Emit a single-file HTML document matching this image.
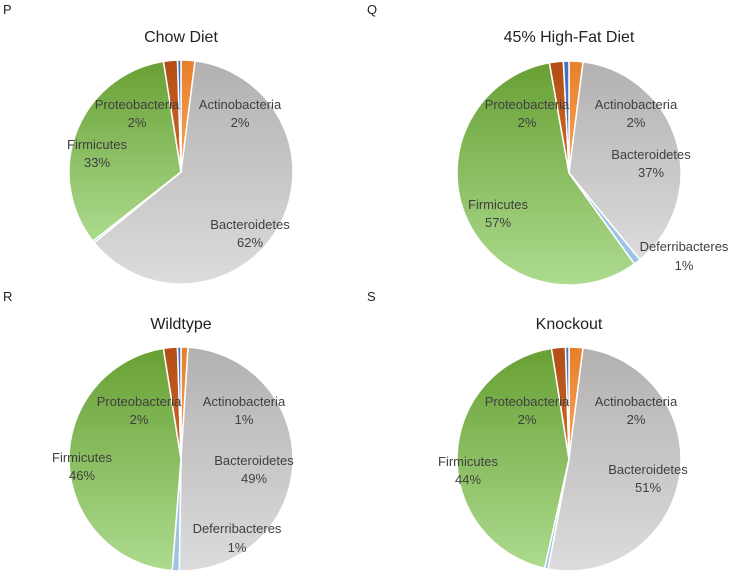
<!DOCTYPE html>
<html><head><meta charset="utf-8"><style>
body{margin:0;background:#fff;width:729px;height:573px;overflow:hidden}
svg{font-family:"Liberation Sans",sans-serif}
.lb{font-size:13px;fill:#404040;text-anchor:middle}
.tt{font-size:16px;fill:#222;text-anchor:middle}
.pl{font-size:13px;fill:#222}
</style></head><body>
<svg id="c" width="729" height="573">
<defs>
<linearGradient id="gG" x1="0" y1="0" x2="0" y2="1"><stop offset="0" stop-color="#68a034"/><stop offset="1" stop-color="#addb8f"/></linearGradient>
<linearGradient id="gY" x1="0" y1="0" x2="0" y2="1"><stop offset="0" stop-color="#b3b0b0"/><stop offset="1" stop-color="#dcdcdc"/></linearGradient>
<linearGradient id="gO" x1="0" y1="0" x2="0" y2="1"><stop offset="0" stop-color="#e87f2a"/><stop offset="1" stop-color="#f6a55a"/></linearGradient>
<linearGradient id="gD" x1="0" y1="0" x2="0" y2="1"><stop offset="0" stop-color="#b24d15"/><stop offset="1" stop-color="#d0682a"/></linearGradient>
</defs>
<text class="pl" x="3" y="14">P</text>
<text class="pl" x="367" y="14">Q</text>
<text class="pl" x="3" y="301">R</text>
<text class="pl" x="367" y="301">S</text>
<text class="tt" x="181" y="42">Chow Diet</text>
<text class="tt" x="569" y="42">45% High-Fat Diet</text>
<text class="tt" x="181" y="329">Wildtype</text>
<text class="tt" x="569" y="329">Knockout</text>
<g id="slices"></g>
<g>
<text class="lb" x="137" y="109">Proteobacteria</text><text class="lb" x="137" y="127">2%</text>
<text class="lb" x="240" y="109">Actinobacteria</text><text class="lb" x="240" y="127">2%</text>
<text class="lb" x="97" y="149">Firmicutes</text><text class="lb" x="97" y="167">33%</text>
<text class="lb" x="250" y="229">Bacteroidetes</text><text class="lb" x="250" y="247">62%</text>

<text class="lb" x="527" y="109">Proteobacteria</text><text class="lb" x="527" y="127">2%</text>
<text class="lb" x="636" y="109">Actinobacteria</text><text class="lb" x="636" y="127">2%</text>
<text class="lb" x="651" y="159">Bacteroidetes</text><text class="lb" x="651" y="177">37%</text>
<text class="lb" x="498" y="209">Firmicutes</text><text class="lb" x="498" y="227">57%</text>
<text class="lb" x="684" y="251">Deferribacteres</text><text class="lb" x="684" y="270">1%</text>

<text class="lb" x="139" y="406">Proteobacteria</text><text class="lb" x="139" y="424">2%</text>
<text class="lb" x="244" y="406">Actinobacteria</text><text class="lb" x="244" y="424">1%</text>
<text class="lb" x="254" y="465">Bacteroidetes</text><text class="lb" x="254" y="483">49%</text>
<text class="lb" x="82" y="462">Firmicutes</text><text class="lb" x="82" y="480">46%</text>
<text class="lb" x="237" y="533">Deferribacteres</text><text class="lb" x="237" y="552">1%</text>

<text class="lb" x="527" y="406">Proteobacteria</text><text class="lb" x="527" y="424">2%</text>
<text class="lb" x="636" y="406">Actinobacteria</text><text class="lb" x="636" y="424">2%</text>
<text class="lb" x="648" y="474">Bacteroidetes</text><text class="lb" x="648" y="492">51%</text>
<text class="lb" x="468" y="466">Firmicutes</text><text class="lb" x="468" y="484">44%</text>
</g>
</svg>
<script>
const categories=["Actinobacteria","Bacteroidetes","Deferribacteres","Firmicutes","Proteobacteria","Other"];
const chow=[2,62,0.3,33,2,0.5];
const highFat=[2,37,1,57,2,0.8];
const wildtype=[1,49,1,46,2,0.5];
const knockout=[2,51,0.5,44,2,0.5];
const colors=["url(#gO)","url(#gY)","#9dc3e6","url(#gG)","url(#gD)","#4472c4"];
const panels=[[chow,181,172,"chow"],[highFat,569,173,"high-fat"],[wildtype,181,459,"wildtype"],[knockout,569,459,"knockout"]];
const R=112,NS="http://www.w3.org/2000/svg",g=document.getElementById('slices');
function pt(cx,cy,a){return [cx+R*Math.sin(a),cy-R*Math.cos(a)];}
panels.forEach(([vals,cx,cy,nm])=>{
  const tot=vals.reduce((a,b)=>a+b,0);let a0=0;
  vals.forEach((v,i)=>{
    const a1=a0+v/tot*2*Math.PI;
    const p0=pt(cx,cy,a0),p1=pt(cx,cy,a1);
    const el=document.createElementNS(NS,'path');
    el.setAttribute('d',`M${cx},${cy}L${p0[0]},${p0[1]}A${R},${R} 0 ${a1-a0>Math.PI?1:0} 1 ${p1[0]},${p1[1]}Z`);
    el.setAttribute('fill',colors[i]);el.setAttribute('stroke','#fff');el.setAttribute('stroke-width','1.5');
    
    
    g.appendChild(el);a0=a1;
  });
});
</script>
</body></html>
